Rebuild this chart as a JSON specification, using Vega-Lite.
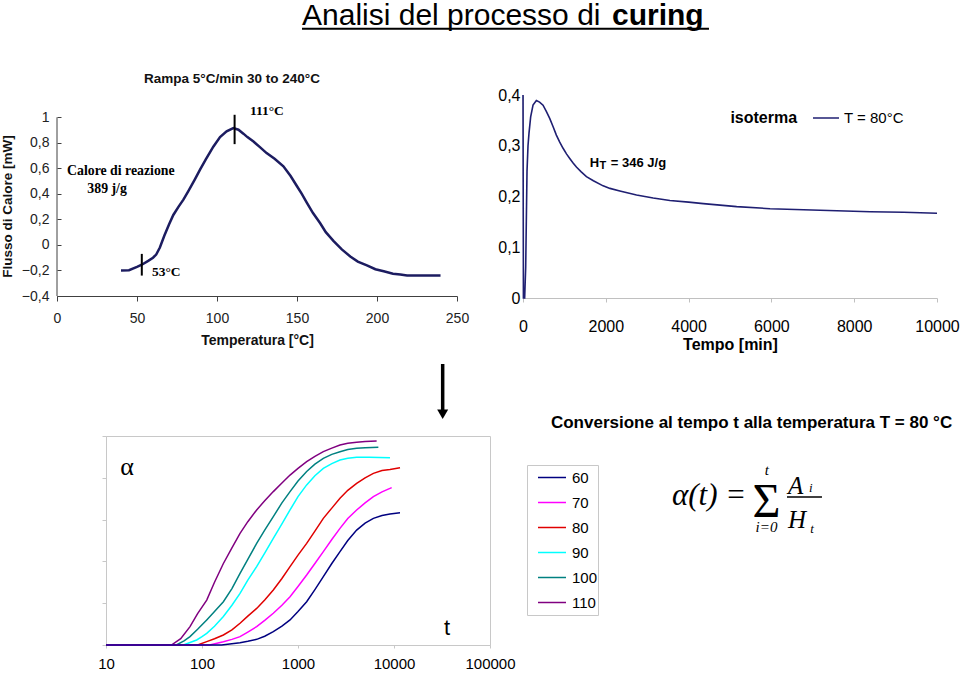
{
  "$schema": "https://vega.github.io/schema/vega-lite/v6.json",
  "padding": 0,
  "background": "white",
  "config": {
    "view": {"stroke": null},
    "font": "Liberation Sans",
    "axis": {"grid": false, "labelFont": "Liberation Sans", "titleFont": "Liberation Sans", "labelFlush": false, "labelOverlap": false},
    "legend": {"labelFont": "Liberation Sans", "titleFont": "Liberation Sans"}
  },
  "bounds": "flush",
  "spacing": 436,
  "resolve": {"scale": {"color": "independent"}, "legend": {"color": "independent"}},
  "vconcat": [
    {
      "bounds": "flush",
      "spacing": 55,
      "resolve": {"scale": {"color": "independent"}, "legend": {"color": "independent"}},
      "vconcat": [
        {
          "width": 700,
          "height": 40,
          "layer": [
            {
              "data": {"values": [{"x": 0.35, "y": 0.365, "label": "Analisi del processo di"}]},
              "mark": {"type": "text", "fontSize": 30, "align": "left", "baseline": "alphabetic", "font": "Liberation Sans", "color": "#000"},
              "encoding": {
                "x": {"field": "x", "type": "quantitative", "scale": {"domain": [0, 1], "nice": false}, "axis": null},
                "y": {"field": "y", "type": "quantitative", "scale": {"domain": [0, 1], "nice": false}, "axis": null},
                "text": {"field": "label"}
              }
            },
            {
              "data": {"values": [{"x": 0.7929, "y": 0.365, "label": "curing"}]},
              "mark": {"type": "text", "fontSize": 30, "fontWeight": "bold", "align": "left", "baseline": "alphabetic", "font": "Liberation Sans", "color": "#000"},
              "encoding": {
                "x": {"field": "x", "type": "quantitative"},
                "y": {"field": "y", "type": "quantitative"},
                "text": {"field": "label"}
              }
            },
            {
              "data": {"values": [{"x": 0.35, "x2": 0.9314, "y": 0.28}]},
              "mark": {"type": "rule", "strokeWidth": 2, "color": "#000"},
              "encoding": {
                "x": {"field": "x", "type": "quantitative"},
                "x2": {"field": "x2"},
                "y": {"field": "y", "type": "quantitative"}
              }
            }
          ]
        },
        {
          "bounds": "flush",
          "spacing": 66,
          "resolve": {"scale": {"color": "independent"}, "legend": {"color": "independent"}},
          "hconcat": [
            {
              "width": 400,
              "height": 201,
              "title": {"text": "Rampa 5°C/min 30 to 240°C", "fontSize": 13.5, "fontWeight": "bold", "font": "Liberation Sans", "color": "#111", "anchor": "middle", "dx": -25, "offset": 10},
              "layer": [
                {
                  "data": {"values": [
                    {"T": 40, "F": -0.2}, {"T": 45, "F": -0.198}, {"T": 50, "F": -0.172}, {"T": 53, "F": -0.155}, {"T": 57, "F": -0.125}, {"T": 60, "F": -0.1}, {"T": 62, "F": -0.075}, {"T": 64.3, "F": -0.02}, {"T": 67, "F": 0.07}, {"T": 70, "F": 0.16}, {"T": 72.7, "F": 0.235}, {"T": 76, "F": 0.3}, {"T": 79, "F": 0.355}, {"T": 82, "F": 0.42}, {"T": 86, "F": 0.51}, {"T": 89.4, "F": 0.59}, {"T": 93, "F": 0.67}, {"T": 97.7, "F": 0.77}, {"T": 101.9, "F": 0.845}, {"T": 106, "F": 0.89}, {"T": 110.2, "F": 0.916}, {"T": 113.4, "F": 0.903}, {"T": 116.5, "F": 0.872}, {"T": 119, "F": 0.845}, {"T": 122.8, "F": 0.81}, {"T": 127, "F": 0.765}, {"T": 131, "F": 0.72}, {"T": 136, "F": 0.675}, {"T": 141.5, "F": 0.616}, {"T": 146, "F": 0.54}, {"T": 150, "F": 0.46}, {"T": 153, "F": 0.4}, {"T": 156.2, "F": 0.33}, {"T": 160, "F": 0.25}, {"T": 164.5, "F": 0.17}, {"T": 168, "F": 0.1}, {"T": 172.9, "F": 0.03}, {"T": 178, "F": -0.035}, {"T": 183.3, "F": -0.09}, {"T": 188, "F": -0.13}, {"T": 193.7, "F": -0.16}, {"T": 199, "F": -0.19}, {"T": 204.2, "F": -0.206}, {"T": 210, "F": -0.225}, {"T": 214.6, "F": -0.232}, {"T": 218.8, "F": -0.24}, {"T": 225, "F": -0.24}, {"T": 232, "F": -0.24}, {"T": 239.7, "F": -0.24}
                  ]},
                  "mark": {"type": "line", "color": "#1c1c60", "strokeWidth": 2.5},
                  "encoding": {
                    "x": {"field": "T", "type": "quantitative", "scale": {"domain": [0, 250], "nice": false},
                      "axis": {"title": "Temperatura [°C]", "values": [0, 50, 100, 150, 200, 250], "tickCount": 20, "labelOverlap": false, "labelFontSize": 14, "labelColor": "#222", "tickSize": 5, "labelPadding": 10, "domainColor": "#404040", "tickColor": "#404040", "titleFontSize": 14, "titleFontWeight": "bold", "titleColor": "#111", "titlePadding": 8}},
                    "y": {"field": "F", "type": "quantitative", "scale": {"domain": [-0.4, 1.175], "nice": false, "zero": false},
                      "axis": {"title": "Flusso di Calore [mW]", "values": [-0.4, -0.2, 0, 0.2, 0.4, 0.6, 0.8, 1], "tickCount": 20, "labelOverlap": false, "labelExpr": "replace(format(datum.value, '~g'), '.', ',')", "labelFontSize": 14, "labelColor": "#222", "domain": false, "tickSize": -4, "tickColor": "#404040", "labelPadding": 12, "titleFontSize": 13.5, "titleFontWeight": "bold", "titleColor": "#111", "titleX": -43, "titleY": 111}}
                  }
                },
                {
                  "data": {"values": [{"T": 0, "F": -0.4, "F2": 1}]},
                  "mark": {"type": "rule", "color": "#404040", "strokeWidth": 1},
                  "encoding": {
                    "x": {"field": "T", "type": "quantitative"},
                    "y": {"field": "F", "type": "quantitative"},
                    "y2": {"field": "F2"}
                  }
                },
                {
                  "data": {"values": [{"T": 53, "F": -0.24, "F2": -0.07}, {"T": 111, "F": 0.79, "F2": 1.02}]},
                  "mark": {"type": "rule", "color": "#000", "strokeWidth": 2},
                  "encoding": {
                    "x": {"field": "T", "type": "quantitative"},
                    "y": {"field": "F", "type": "quantitative"},
                    "y2": {"field": "F2"}
                  }
                },
                {
                  "data": {"values": [{"T": 120.6, "F": 1.05, "label": "111°C"}, {"T": 59.3, "F": -0.212, "label": "53°C"}]},
                  "mark": {"type": "text", "font": "Liberation Serif", "fontWeight": "bold", "fontSize": 13.5, "align": "left", "baseline": "middle", "color": "#000"},
                  "encoding": {
                    "x": {"field": "T", "type": "quantitative"},
                    "y": {"field": "F", "type": "quantitative"},
                    "text": {"field": "label"}
                  }
                },
                {
                  "data": {"values": [{"T": 39.9, "F": 0.58, "label": "Calore di reazione"}, {"T": 31.3, "F": 0.436, "label": "389 j/g"}]},
                  "mark": {"type": "text", "font": "Liberation Serif", "fontWeight": "bold", "fontSize": 13.8, "align": "center", "baseline": "middle", "color": "#000"},
                  "encoding": {
                    "x": {"field": "T", "type": "quantitative"},
                    "y": {"field": "F", "type": "quantitative"},
                    "text": {"field": "label"}
                  }
                }
              ]
            },
            {
              "width": 414,
              "height": 203,
              "layer": [
                {
                  "data": {"values": [
                    {"t": 0, "q": 0.4, "serie": "T = 80°C"}, {"t": 10, "q": 0, "serie": "T = 80°C"}, {"t": 40, "q": 0, "serie": "T = 80°C"}, {"t": 65, "q": 0.06, "serie": "T = 80°C"}, {"t": 80, "q": 0.15, "serie": "T = 80°C"}, {"t": 97, "q": 0.25, "serie": "T = 80°C"}, {"t": 121, "q": 0.3, "serie": "T = 80°C"}, {"t": 145, "q": 0.325, "serie": "T = 80°C"}, {"t": 185, "q": 0.357, "serie": "T = 80°C"}, {"t": 242, "q": 0.38, "serie": "T = 80°C"}, {"t": 323, "q": 0.389, "serie": "T = 80°C"}, {"t": 400, "q": 0.386, "serie": "T = 80°C"}, {"t": 484, "q": 0.38, "serie": "T = 80°C"}, {"t": 560, "q": 0.368, "serie": "T = 80°C"}, {"t": 645, "q": 0.354, "serie": "T = 80°C"}, {"t": 725, "q": 0.338, "serie": "T = 80°C"}, {"t": 806, "q": 0.321, "serie": "T = 80°C"}, {"t": 887, "q": 0.307, "serie": "T = 80°C"}, {"t": 968, "q": 0.295, "serie": "T = 80°C"}, {"t": 1050, "q": 0.284, "serie": "T = 80°C"}, {"t": 1129, "q": 0.275, "serie": "T = 80°C"}, {"t": 1210, "q": 0.266, "serie": "T = 80°C"}, {"t": 1290, "q": 0.258, "serie": "T = 80°C"}, {"t": 1400, "q": 0.249, "serie": "T = 80°C"}, {"t": 1532, "q": 0.239, "serie": "T = 80°C"}, {"t": 1700, "q": 0.231, "serie": "T = 80°C"}, {"t": 1935, "q": 0.221, "serie": "T = 80°C"}, {"t": 2100, "q": 0.216, "serie": "T = 80°C"}, {"t": 2339, "q": 0.211, "serie": "T = 80°C"}, {"t": 2742, "q": 0.203, "serie": "T = 80°C"}, {"t": 3145, "q": 0.197, "serie": "T = 80°C"}, {"t": 3548, "q": 0.192, "serie": "T = 80°C"}, {"t": 4000, "q": 0.189, "serie": "T = 80°C"}, {"t": 4355, "q": 0.186, "serie": "T = 80°C"}, {"t": 5161, "q": 0.18, "serie": "T = 80°C"}, {"t": 5968, "q": 0.176, "serie": "T = 80°C"}, {"t": 6774, "q": 0.174, "serie": "T = 80°C"}, {"t": 7581, "q": 0.172, "serie": "T = 80°C"}, {"t": 8387, "q": 0.17, "serie": "T = 80°C"}, {"t": 9194, "q": 0.169, "serie": "T = 80°C"}, {"t": 10000, "q": 0.167, "serie": "T = 80°C"}
                  ]},
                  "mark": {"type": "line", "strokeWidth": 1.6},
                  "encoding": {
                    "x": {"field": "t", "type": "quantitative", "scale": {"domain": [0, 10000], "nice": false},
                      "axis": {"title": "Tempo [min]", "values": [0, 2000, 4000, 6000, 8000, 10000], "tickCount": 20, "format": "d", "labelOverlap": false, "labelFontSize": 16, "labelColor": "#000", "domainColor": "#c0c0c0", "tickColor": "#c0c0c0", "tickSize": 4, "labelPadding": 16, "titleFontSize": 16, "titleFontWeight": "bold", "titleColor": "#000", "titlePadding": 2}},
                    "y": {"field": "q", "type": "quantitative", "scale": {"domain": [0, 0.4], "nice": false},
                      "axis": {"title": null, "values": [0, 0.1, 0.2, 0.3, 0.4], "tickCount": 20, "labelOverlap": false, "labelExpr": "replace(format(datum.value, '~g'), '.', ',')", "ticks": false, "labelPadding": 3, "domainColor": "#c0c0c0", "labelFontSize": 16, "labelColor": "#000"}},
                    "color": {"field": "serie", "type": "nominal", "scale": {"domain": ["T = 80°C"], "range": ["#1f1f72"]},
                      "legend": {"title": null, "orient": "none", "legendX": 289, "legendY": 9, "symbolType": "stroke", "symbolSize": 676, "symbolStrokeWidth": 1.5, "labelFontSize": 15, "labelColor": "#000", "padding": 0, "labelOffset": 4}}
                  }
                },
                {
                  "data": {"values": [{"t": 6621, "q": 0.3547, "label": "isoterma"}]},
                  "mark": {"type": "text", "fontSize": 16, "fontWeight": "bold", "align": "right", "baseline": "middle", "color": "#000"},
                  "encoding": {
                    "x": {"field": "t", "type": "quantitative"},
                    "y": {"field": "q", "type": "quantitative"},
                    "text": {"field": "label"}
                  }
                },
                {
                  "data": {"values": [{"t": 1613, "q": 0.2573, "label": "H"}, {"t": 2121, "q": 0.2573, "label": "= 346 J/g"}]},
                  "mark": {"type": "text", "fontSize": 13, "fontWeight": "bold", "align": "left", "baseline": "alphabetic", "color": "#000"},
                  "encoding": {
                    "x": {"field": "t", "type": "quantitative"},
                    "y": {"field": "q", "type": "quantitative"},
                    "text": {"field": "label"}
                  }
                },
                {
                  "data": {"values": [{"t": 1845, "q": 0.2544, "label": "T"}]},
                  "mark": {"type": "text", "fontSize": 11, "fontWeight": "bold", "align": "left", "baseline": "alphabetic", "color": "#000"},
                  "encoding": {
                    "x": {"field": "t", "type": "quantitative"},
                    "y": {"field": "q", "type": "quantitative"},
                    "text": {"field": "label"}
                  }
                }
              ]
            }
          ]
        }
      ]
    },
    {
      "bounds": "flush",
      "spacing": 30,
      "resolve": {"scale": {"color": "independent"}, "legend": {"color": "independent"}},
      "hconcat": [
        {
          "width": 19,
          "height": 10,
          "data": {"values": []},
          "mark": {"type": "text"},
          "encoding": {}
        },
        {
          "width": 384,
          "height": 209,
          "view": {"stroke": "#c8c8c8"},
          "layer": [
            {
              "data": {"values": [
                {"T": "110", "t": 10, "a": 0}, {"T": "110", "t": 48, "a": 0}, {"T": "110", "t": 60, "a": 0.03}, {"T": "110", "t": 75, "a": 0.088}, {"T": "110", "t": 90, "a": 0.15}, {"T": "110", "t": 112, "a": 0.215}, {"T": "110", "t": 135, "a": 0.3}, {"T": "110", "t": 167, "a": 0.39}, {"T": "110", "t": 205, "a": 0.465}, {"T": "110", "t": 249, "a": 0.534}, {"T": "110", "t": 300, "a": 0.59}, {"T": "110", "t": 371, "a": 0.646}, {"T": "110", "t": 450, "a": 0.69}, {"T": "110", "t": 553, "a": 0.734}, {"T": "110", "t": 680, "a": 0.775}, {"T": "110", "t": 826, "a": 0.813}, {"T": "110", "t": 1000, "a": 0.845}, {"T": "110", "t": 1231, "a": 0.877}, {"T": "110", "t": 1500, "a": 0.903}, {"T": "110", "t": 1836, "a": 0.925}, {"T": "110", "t": 2250, "a": 0.942}, {"T": "110", "t": 2738, "a": 0.957}, {"T": "110", "t": 3300, "a": 0.965}, {"T": "110", "t": 4083, "a": 0.97}, {"T": "110", "t": 5000, "a": 0.974}, {"T": "110", "t": 6596, "a": 0.976},
                {"T": "100", "t": 10, "a": 0}, {"T": "100", "t": 54, "a": 0}, {"T": "100", "t": 65, "a": 0.02}, {"T": "100", "t": 75, "a": 0.04}, {"T": "100", "t": 90, "a": 0.075}, {"T": "100", "t": 112, "a": 0.12}, {"T": "100", "t": 135, "a": 0.16}, {"T": "100", "t": 167, "a": 0.207}, {"T": "100", "t": 205, "a": 0.27}, {"T": "100", "t": 249, "a": 0.343}, {"T": "100", "t": 300, "a": 0.41}, {"T": "100", "t": 371, "a": 0.486}, {"T": "100", "t": 450, "a": 0.55}, {"T": "100", "t": 553, "a": 0.614}, {"T": "100", "t": 680, "a": 0.68}, {"T": "100", "t": 826, "a": 0.734}, {"T": "100", "t": 1000, "a": 0.785}, {"T": "100", "t": 1231, "a": 0.83}, {"T": "100", "t": 1500, "a": 0.865}, {"T": "100", "t": 1836, "a": 0.893}, {"T": "100", "t": 2250, "a": 0.912}, {"T": "100", "t": 2738, "a": 0.925}, {"T": "100", "t": 3300, "a": 0.935}, {"T": "100", "t": 4083, "a": 0.941}, {"T": "100", "t": 5000, "a": 0.944}, {"T": "100", "t": 6870, "a": 0.946},
                {"T": "90", "t": 10, "a": 0}, {"T": "90", "t": 64, "a": 0}, {"T": "90", "t": 75, "a": 0.012}, {"T": "90", "t": 88, "a": 0.024}, {"T": "90", "t": 100, "a": 0.04}, {"T": "90", "t": 112, "a": 0.056}, {"T": "90", "t": 135, "a": 0.09}, {"T": "90", "t": 167, "a": 0.136}, {"T": "90", "t": 205, "a": 0.19}, {"T": "90", "t": 249, "a": 0.247}, {"T": "90", "t": 300, "a": 0.31}, {"T": "90", "t": 371, "a": 0.375}, {"T": "90", "t": 450, "a": 0.44}, {"T": "90", "t": 553, "a": 0.51}, {"T": "90", "t": 680, "a": 0.58}, {"T": "90", "t": 826, "a": 0.646}, {"T": "90", "t": 1000, "a": 0.71}, {"T": "90", "t": 1231, "a": 0.766}, {"T": "90", "t": 1500, "a": 0.81}, {"T": "90", "t": 1836, "a": 0.845}, {"T": "90", "t": 2250, "a": 0.868}, {"T": "90", "t": 2738, "a": 0.885}, {"T": "90", "t": 3300, "a": 0.893}, {"T": "90", "t": 4083, "a": 0.898}, {"T": "90", "t": 5500, "a": 0.898}, {"T": "90", "t": 9080, "a": 0.896},
                {"T": "80", "t": 10, "a": 0}, {"T": "80", "t": 90, "a": 0}, {"T": "80", "t": 112, "a": 0.016}, {"T": "80", "t": 135, "a": 0.03}, {"T": "80", "t": 167, "a": 0.048}, {"T": "80", "t": 205, "a": 0.072}, {"T": "80", "t": 249, "a": 0.104}, {"T": "80", "t": 300, "a": 0.138}, {"T": "80", "t": 371, "a": 0.175}, {"T": "80", "t": 450, "a": 0.215}, {"T": "80", "t": 553, "a": 0.263}, {"T": "80", "t": 680, "a": 0.318}, {"T": "80", "t": 826, "a": 0.375}, {"T": "80", "t": 1000, "a": 0.43}, {"T": "80", "t": 1231, "a": 0.486}, {"T": "80", "t": 1500, "a": 0.545}, {"T": "80", "t": 1836, "a": 0.606}, {"T": "80", "t": 2250, "a": 0.655}, {"T": "80", "t": 2738, "a": 0.702}, {"T": "80", "t": 3300, "a": 0.74}, {"T": "80", "t": 4083, "a": 0.773}, {"T": "80", "t": 5000, "a": 0.8}, {"T": "80", "t": 6100, "a": 0.821}, {"T": "80", "t": 7500, "a": 0.835}, {"T": "80", "t": 9080, "a": 0.84}, {"T": "80", "t": 11550, "a": 0.848},
                {"T": "70", "t": 10, "a": 0}, {"T": "70", "t": 120, "a": 0}, {"T": "70", "t": 167, "a": 0.016}, {"T": "70", "t": 205, "a": 0.027}, {"T": "70", "t": 249, "a": 0.04}, {"T": "70", "t": 300, "a": 0.062}, {"T": "70", "t": 371, "a": 0.088}, {"T": "70", "t": 450, "a": 0.118}, {"T": "70", "t": 553, "a": 0.152}, {"T": "70", "t": 680, "a": 0.19}, {"T": "70", "t": 826, "a": 0.231}, {"T": "70", "t": 1000, "a": 0.28}, {"T": "70", "t": 1231, "a": 0.335}, {"T": "70", "t": 1500, "a": 0.39}, {"T": "70", "t": 1836, "a": 0.447}, {"T": "70", "t": 2250, "a": 0.505}, {"T": "70", "t": 2738, "a": 0.558}, {"T": "70", "t": 3300, "a": 0.605}, {"T": "70", "t": 4083, "a": 0.646}, {"T": "70", "t": 5000, "a": 0.68}, {"T": "70", "t": 6100, "a": 0.71}, {"T": "70", "t": 7500, "a": 0.733}, {"T": "70", "t": 9460, "a": 0.753},
                {"T": "60", "t": 10, "a": 0}, {"T": "60", "t": 160, "a": 0}, {"T": "60", "t": 249, "a": 0.011}, {"T": "60", "t": 300, "a": 0.018}, {"T": "60", "t": 371, "a": 0.027}, {"T": "60", "t": 450, "a": 0.042}, {"T": "60", "t": 553, "a": 0.064}, {"T": "60", "t": 680, "a": 0.09}, {"T": "60", "t": 826, "a": 0.12}, {"T": "60", "t": 1000, "a": 0.16}, {"T": "60", "t": 1231, "a": 0.207}, {"T": "60", "t": 1500, "a": 0.265}, {"T": "60", "t": 1836, "a": 0.327}, {"T": "60", "t": 2250, "a": 0.39}, {"T": "60", "t": 2738, "a": 0.447}, {"T": "60", "t": 3300, "a": 0.5}, {"T": "60", "t": 4083, "a": 0.55}, {"T": "60", "t": 5000, "a": 0.583}, {"T": "60", "t": 6100, "a": 0.606}, {"T": "60", "t": 7500, "a": 0.62}, {"T": "60", "t": 9080, "a": 0.627}, {"T": "60", "t": 11550, "a": 0.633}
              ]},
              "mark": {"type": "line", "strokeWidth": 1.5},
              "encoding": {
                "x": {"field": "t", "type": "quantitative", "scale": {"type": "log", "domain": [10, 100000], "nice": false},
                  "axis": {"title": null, "values": [10, 100, 1000, 10000, 100000], "tickCount": 20, "format": "d", "labelOverlap": false, "labelFontSize": 15, "labelColor": "#000", "domainColor": "#c8c8c8", "tickColor": "#c8c8c8", "tickSize": 3, "labelPadding": 8}},
                "y": {"field": "a", "type": "quantitative", "scale": {"domain": [0, 1], "nice": false},
                  "axis": {"title": null, "values": [0, 0.2, 0.4, 0.6, 0.8, 1], "tickCount": 20, "labels": false, "domainColor": "#c8c8c8", "tickColor": "#c8c8c8", "tickSize": 4}},
                "color": {"field": "T", "type": "nominal",
                  "scale": {"domain": ["60", "70", "80", "90", "100", "110"], "range": ["#000080", "#ff00ff", "#e00000", "#00ffff", "#008080", "#800080"]},
                  "legend": {"title": null, "orient": "none", "legendX": 421, "legendY": 29, "symbolType": "stroke", "symbolSize": 784, "symbolStrokeWidth": 1.5, "labelFontSize": 15, "labelColor": "#000", "strokeColor": "#c8c8c8", "padding": 0, "clipHeight": 25, "rowPadding": 0, "symbolOffset": 10, "labelOffset": 5}}
              }
            },
            {
              "data": {"values": [{"t": 16.6, "a": 0.852, "label": "α"}]},
              "mark": {"type": "text", "fontSize": 26, "font": "Liberation Serif", "align": "center", "baseline": "middle", "color": "#000"},
              "encoding": {
                "x": {"field": "t", "type": "quantitative"},
                "y": {"field": "a", "type": "quantitative"},
                "text": {"field": "label"}
              }
            },
            {
              "data": {"values": [{"t": 35650, "a": 0.081, "label": "t"}]},
              "mark": {"type": "text", "fontSize": 22, "align": "center", "baseline": "middle", "color": "#000"},
              "encoding": {
                "x": {"field": "t", "type": "quantitative"},
                "y": {"field": "a", "type": "quantitative"},
                "text": {"field": "label"}
              }
            },
            {
              "data": {"values": [{"t": 32140, "a": 1.3445, "a2": 1.11}]},
              "mark": {"type": "rule", "strokeWidth": 3.5, "color": "#000"},
              "encoding": {
                "x": {"field": "t", "type": "quantitative"},
                "y": {"field": "a", "type": "quantitative"},
                "y2": {"field": "a2"}
              }
            },
            {
              "data": {"values": [{"t": 32140, "a": 1.1043}]},
              "mark": {"type": "point", "shape": "triangle-down", "size": 121, "filled": true, "color": "#000", "opacity": 1},
              "encoding": {
                "x": {"field": "t", "type": "quantitative"},
                "y": {"field": "a", "type": "quantitative"}
              }
            }
          ]
        },
        {
          "width": 432,
          "height": 209,
          "layer": [
            {
              "data": {"values": [{"x": 0.536, "y": 1.038, "label": "Conversione al tempo t alla temperatura T = 80 °C"}]},
              "mark": {"type": "text", "fontSize": 17, "fontWeight": "bold", "align": "center", "baseline": "alphabetic", "color": "#000"},
              "encoding": {
                "x": {"field": "x", "type": "quantitative", "scale": {"domain": [0, 1], "nice": false}, "axis": null},
                "y": {"field": "y", "type": "quantitative", "scale": {"domain": [0, 1], "nice": false}, "axis": null},
                "text": {"field": "label"}
              }
            },
            {
              "data": {"values": [{"x": 0.3519, "y": 0.6675, "label": "α(t) ="}]},
              "mark": {"type": "text", "fontSize": 31, "font": "Liberation Serif", "fontStyle": "italic", "align": "left", "baseline": "alphabetic", "color": "#000"},
              "encoding": {
                "x": {"field": "x", "type": "quantitative"},
                "y": {"field": "y", "type": "quantitative"},
                "text": {"field": "label"}
              }
            },
            {
              "data": {"values": [{"x": 0.5706, "y": 0.6124, "label": "Σ"}]},
              "mark": {"type": "text", "fontSize": 48, "font": "Liberation Serif", "align": "center", "baseline": "alphabetic", "color": "#000"},
              "encoding": {
                "x": {"field": "x", "type": "quantitative"},
                "y": {"field": "y", "type": "quantitative"},
                "text": {"field": "label"}
              }
            },
            {
              "data": {"values": [{"x": 0.5711, "y": 0.8134, "label": "t"}, {"x": 0.5706, "y": 0.542, "label": "i=0"}]},
              "mark": {"type": "text", "fontSize": 15, "font": "Liberation Serif", "fontStyle": "italic", "align": "center", "baseline": "alphabetic", "color": "#000"},
              "encoding": {
                "x": {"field": "x", "type": "quantitative"},
                "y": {"field": "y", "type": "quantitative"},
                "text": {"field": "label"}
              }
            },
            {
              "data": {"values": [{"x": 0.618, "x2": 0.699, "y": 0.708}]},
              "mark": {"type": "rule", "strokeWidth": 1.5, "color": "#000"},
              "encoding": {
                "x": {"field": "x", "type": "quantitative"},
                "x2": {"field": "x2"},
                "y": {"field": "y", "type": "quantitative"}
              }
            },
            {
              "data": {"values": [{"x": 0.6204, "y": 0.7225, "label": "A"}, {"x": 0.6204, "y": 0.56, "label": "H"}]},
              "mark": {"type": "text", "fontSize": 25, "font": "Liberation Serif", "fontStyle": "italic", "align": "left", "baseline": "alphabetic", "color": "#000"},
              "encoding": {
                "x": {"field": "x", "type": "quantitative"},
                "y": {"field": "y", "type": "quantitative"},
                "text": {"field": "label"}
              }
            },
            {
              "data": {"values": [{"x": 0.669, "y": 0.732, "label": "i"}, {"x": 0.672, "y": 0.536, "label": "t"}]},
              "mark": {"type": "text", "fontSize": 13, "font": "Liberation Serif", "fontStyle": "italic", "align": "left", "baseline": "alphabetic", "color": "#000"},
              "encoding": {
                "x": {"field": "x", "type": "quantitative"},
                "y": {"field": "y", "type": "quantitative"},
                "text": {"field": "label"}
              }
            }
          ]
        }
      ]
    }
  ]
}
